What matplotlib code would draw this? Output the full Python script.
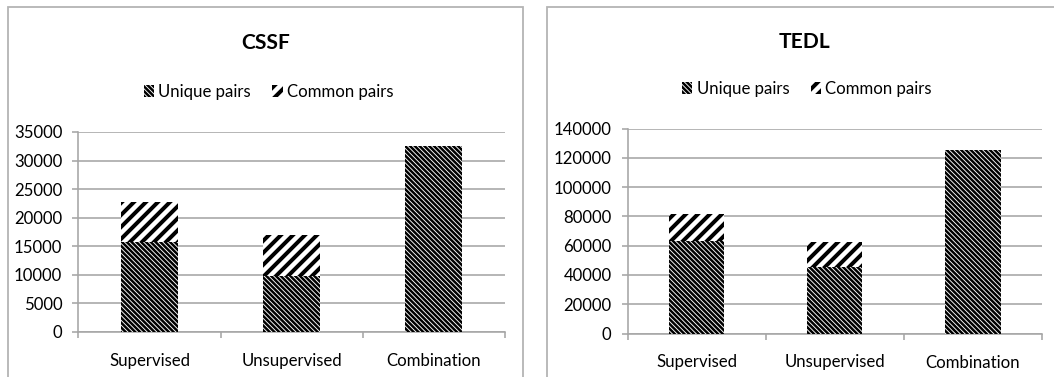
import matplotlib
matplotlib.use("Agg")
import matplotlib.pyplot as plt
from matplotlib.patches import Rectangle, Patch

# ---- data -------------------------------------------------------------
categories = ["Supervised", "Unsupervised", "Combination"]

cssf_unique = [15800, 9700, 32500]
cssf_common = [7000, 7300, 0]
cssf_ticks = [0, 5000, 10000, 15000, 20000, 25000, 30000, 35000]

tedl_unique = [63500, 45300, 125000]
tedl_common = [18200, 16900, 0]
tedl_ticks = [0, 20000, 40000, 60000, 80000, 100000, 120000, 140000]

series_labels = ["Unique pairs", "Common pairs"]

# ---- style ------------------------------------------------------------
DPI = 144
W, H = 1054, 377
plt.rcParams["font.family"] = ["Lato", "DejaVu Sans"]
GRID = "#a6a6a6"
FRAME = "#b4b4b4"
UNIQUE_HATCH = "\\" * 10
COMMON_HATCH = "////"
UNIQUE_LW = 1.25
COMMON_LW = 2.0
TICK_FS = 8.4
TITLE_FS = 10.5

fig = plt.figure(figsize=(W / DPI, H / DPI), dpi=DPI)
fig.patch.set_facecolor("white")


def px_rect(x0, x1, ytop, ybot):
    return [x0 / W, 1 - ybot / H, (x1 - x0) / W, (ybot - ytop) / H]


def set_hatch_lw(patch, lw):
    if hasattr(patch, "set_hatch_linewidth"):
        patch.set_hatch_linewidth(lw)
    else:
        plt.rcParams["hatch.linewidth"] = lw


def draw_panel(rect, frame_x0, frame_x1, title, title_xy, legend_xy,
               unique, common, ticks):
    # chart frame
    fig.patches.append(Rectangle((frame_x0 / W, -0.1),
                                 (frame_x1 - frame_x0) / W, 1.1 - 7.3 / H,
                                 transform=fig.transFigure, fill=False,
                                 edgecolor=FRAME, linewidth=0.9, zorder=0))
    ax = fig.add_axes(rect)
    x = list(range(len(categories)))
    b1 = ax.bar(x, unique, width=0.4, color="white", edgecolor="black",
                linewidth=0, hatch=UNIQUE_HATCH, zorder=3)
    b2 = ax.bar(x, common, width=0.4, bottom=unique, color="white",
                edgecolor="black", linewidth=0, hatch=COMMON_HATCH, zorder=3)
    for p in b1:
        set_hatch_lw(p, UNIQUE_LW)
    for p in b2:
        set_hatch_lw(p, COMMON_LW)

    ax.set_xlim(-0.5, len(categories) - 0.5)
    ax.set_ylim(ticks[0], ticks[-1])
    ax.set_yticks(ticks)
    ax.set_yticklabels([str(t) for t in ticks])
    ax.yaxis.grid(True, color=GRID, linewidth=0.8)
    ax.set_axisbelow(True)

    ax.set_xticks([i - 0.5 for i in range(len(categories) + 1)])
    ax.set_xticklabels([])
    ax.set_xticks(x, minor=True)
    ax.set_xticklabels(categories, minor=True)
    ax.tick_params(axis="x", which="major", direction="out", length=3.2,
                   color=GRID, width=0.8)
    ax.tick_params(axis="x", which="minor", length=0, pad=10.5,
                   labelsize=TICK_FS)
    ax.tick_params(axis="y", direction="out", length=3.0, color=GRID,
                   width=0.8, pad=5, labelsize=TICK_FS)

    for s in ("top", "right"):
        ax.spines[s].set_visible(False)
    for s in ("left", "bottom"):
        ax.spines[s].set_color(GRID)
        ax.spines[s].set_linewidth(0.8)

    fig.text(title_xy[0] / W, 1 - title_xy[1] / H, title, ha="center",
             va="center", fontsize=TITLE_FS, fontweight="bold")

    h1 = Patch(facecolor="white", edgecolor="black", linewidth=0,
               hatch=UNIQUE_HATCH)
    h2 = Patch(facecolor="white", edgecolor="black", linewidth=0,
               hatch=COMMON_HATCH)
    leg = ax.legend([h1, h2], series_labels, loc="center",
                    bbox_to_anchor=(legend_xy[0] / W, 1 - legend_xy[1] / H),
                    bbox_transform=fig.transFigure, ncol=2, frameon=False,
                    fontsize=TICK_FS, handlelength=0.6, handleheight=0.65,
                    handletextpad=0.25, columnspacing=1.3, borderpad=0)
    hs = leg.legend_handles if hasattr(leg, "legend_handles") else leg.legendHandles
    set_hatch_lw(hs[0], UNIQUE_LW)
    set_hatch_lw(hs[1], COMMON_LW)
    return ax


draw_panel(px_rect(78.3, 505, 132, 331.7), 8.3, 522.7, "CSSF",
           (265.5, 43), (268.5, 92), cssf_unique, cssf_common, cssf_ticks)
draw_panel(px_rect(627.5, 1042, 128.5, 333.5), 547, 1062, "TEDL",
           (804.5, 42), (807, 89), tedl_unique, tedl_common, tedl_ticks)

fig.savefig("out.png", dpi=DPI)
